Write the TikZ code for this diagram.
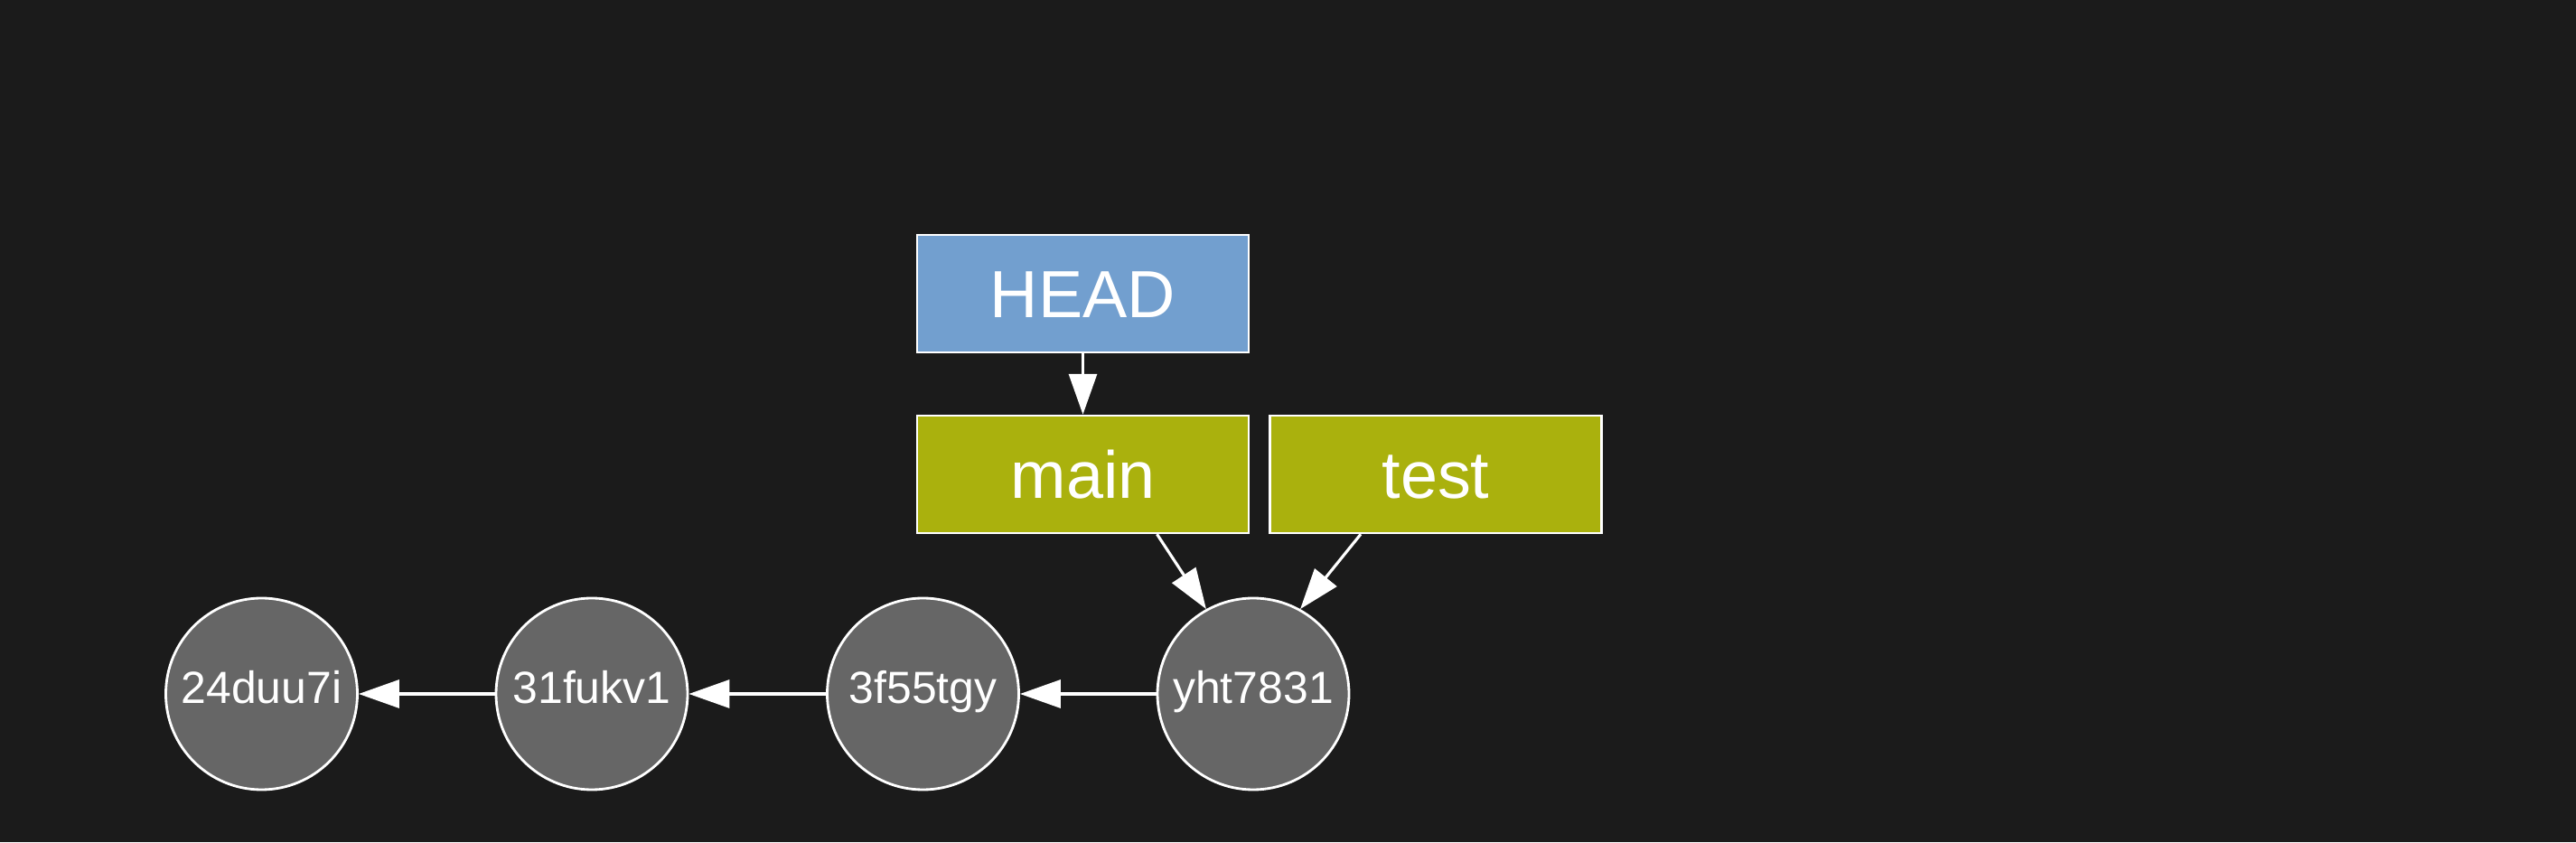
\documentclass[tikz,border=0pt]{standalone}
\usepackage{fontspec}
\setmainfont{Liberation Sans}
\usetikzlibrary{arrows.meta}
\tikzset{
  refbox/.style={
    draw=white,
    line width=0.7pt,
    minimum width=3.67cm,
    minimum height=1.30cm,
    inner sep=0pt,
    text=white,
    font=\fontsize{21pt}{21pt}\selectfont,
    text height=15.1pt,
    text depth=0pt
  },
  commit/.style={
    circle,
    draw=white,
    fill=commitgray,
    line width=0.8pt,
    minimum size=2.12cm,
    inner sep=0pt,
    text=white,
    font=\fontsize{14.2pt}{14.2pt}\selectfont,
    text height=10.2pt,
    text depth=4pt
  },
  edge/.style={
    draw=white,
    line width=0.9pt,
    -{Triangle[length=0.45cm,width=0.31cm]}
  }
}

\begin{document}
\begin{tikzpicture}

    % 色
    \definecolor{bgdark}{HTML}{1B1B1B}
    \definecolor{headblue}{HTML}{729FCF}
    \definecolor{branchgreen}{HTML}{AAB10D}
    \definecolor{commitgray}{HTML}{666666}

    % パラメータ
    \def\W{28.51}
    \def\H{9.32}
    \def\yc{1.64}  % コミットの高さ

    % 背景
    \fill[bgdark] (0,0) rectangle (\W,\H);
    \useasboundingbox (0,0) rectangle (\W,\H);

    % 参照
    \node[refbox,fill=headblue]    (head) at (11.985,6.07) {HEAD};
    \node[refbox,fill=branchgreen] (main) at (11.985,4.07) {main};
    \node[refbox,fill=branchgreen] (test) at (15.89,4.07)  {test};

    % コミット
    \foreach \i/\x/\name in {1/2.895/24duu7i, 2/6.55/31fukv1, 3/10.215/3f55tgy, 4/13.87/yht7831} {
        \node[commit] (c\i) at (\x,\yc) {\name};
    }

    % 矢印
    \draw[edge] (head) -- (main);
    \draw[edge] ([xshift=0.82cm]main.south) -- (c4.119);
    \draw[edge] ([xshift=-0.83cm]test.south) -- (c4.61);
    \foreach \a/\b in {4/3,3/2,2/1} {
        \draw[edge] (c\a) -- (c\b);
    }

\end{tikzpicture}
\end{document}
